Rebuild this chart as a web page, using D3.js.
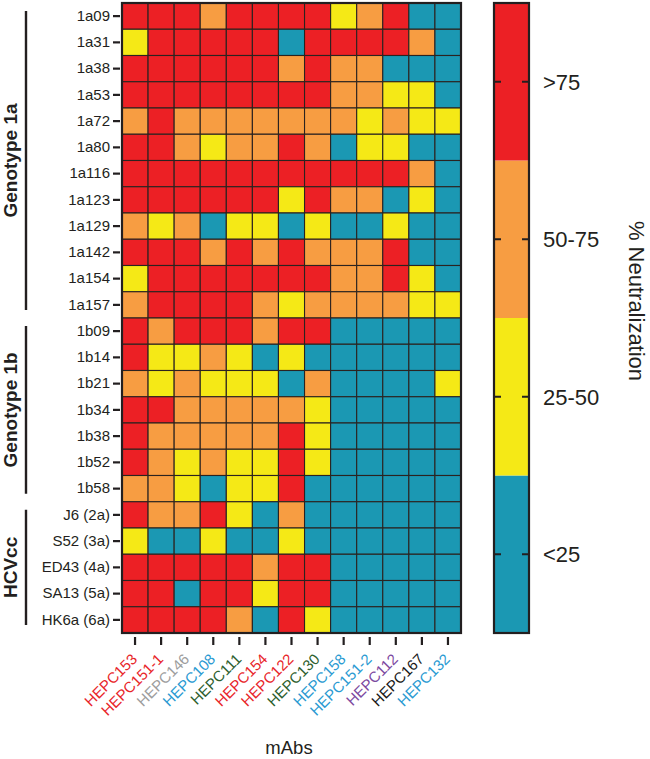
<!DOCTYPE html>
<html><head><meta charset="utf-8">
<script src="https://cdn.jsdelivr.net/npm/d3@7"></script>
<style>body{margin:0;background:#fff}svg{display:block}text{font-family:"Liberation Sans",Arial,sans-serif}</style>
</head><body>
<script>
const strains = ["1a09","1a31","1a38","1a53","1a72","1a80","1a116","1a123","1a129","1a142","1a154","1a157",
  "1b09","1b14","1b21","1b34","1b38","1b52","1b58","J6 (2a)","S52 (3a)","ED43 (4a)","SA13 (5a)","HK6a (6a)"];
const mabs = ["HEPC153","HEPC151-1","HEPC146","HEPC108","HEPC111","HEPC154","HEPC122","HEPC130","HEPC158","HEPC151-2","HEPC112","HEPC167","HEPC132"];
const mabColors = ["#e8262a","#e8262a","#9d9d9d","#2a9ad2","#2e5f2f","#e8262a","#e8262a","#2e5f2f","#2a9ad2","#2a9ad2","#7d4a9f","#1a1a1a","#2a9ad2"];
// neutralization class: 3 = >75, 2 = 50-75, 1 = 25-50, 0 = <25
const neutralization = [
  "3 3 3 2 3 3 3 3 1 2 3 0 0",
  "1 3 3 3 3 3 0 3 3 3 3 2 0",
  "3 3 3 3 3 3 2 3 2 2 0 0 0",
  "3 3 3 3 3 3 3 3 2 2 1 1 0",
  "2 3 2 2 2 2 2 2 2 1 2 1 1",
  "3 3 2 1 2 2 3 2 0 1 1 0 0",
  "3 3 3 3 3 3 3 3 3 3 3 2 0",
  "3 3 3 3 3 3 1 3 2 2 0 1 0",
  "2 1 2 0 1 1 0 1 0 0 1 0 0",
  "3 3 3 2 3 2 3 2 2 2 3 0 0",
  "1 3 3 3 3 3 3 3 2 2 3 1 0",
  "2 3 3 3 3 2 1 2 2 2 2 1 1",
  "3 2 3 3 3 2 3 3 0 0 0 0 0",
  "3 1 1 2 1 0 1 0 0 0 0 0 0",
  "2 1 2 1 1 1 0 2 0 0 0 0 1",
  "3 3 2 2 2 2 2 1 0 0 0 0 0",
  "3 2 2 2 2 2 3 1 0 0 0 0 0",
  "3 2 1 2 1 1 3 1 0 0 0 0 0",
  "2 2 1 0 1 1 3 0 0 0 0 0 0",
  "3 2 2 3 1 0 2 0 0 0 0 0 0",
  "1 0 0 1 0 0 1 0 0 0 0 0 0",
  "3 3 3 3 3 2 3 3 0 0 0 0 0",
  "3 3 0 3 3 1 3 3 0 0 0 0 0",
  "3 3 3 3 2 0 3 1 0 0 0 0 0"
].map(r => r.split(" ").map(Number));
const classes = [0,1,2,3];
const classLabels = ["<25","25-50","50-75",">75"];
const classColors = ["#1b98b3","#f5e916","#f79d42","#ec2025"];
const groups = [
  {name:"Genotype 1a", first:"1a09", last:"1a157"},
  {name:"Genotype 1b", first:"1b09", last:"1b58"},
  {name:"HCVcc", first:"J6 (2a)", last:"HK6a (6a)"}
];

const W = 650, H = 759;
const svg = d3.select("body").append("svg").attr("width", W).attr("height", H);
const x = d3.scaleBand().domain(mabs).range([122, 461]).padding(0);
const y = d3.scaleBand().domain(strains).range([3, 633]).padding(0);
const color = d3.scaleOrdinal().domain(classes).range(classColors);
const ink = "#231f20";

const cells = [];
neutralization.forEach((row, i) => row.forEach((v, j) => cells.push({s: strains[i], m: mabs[j], v})));
svg.append("g").selectAll("rect").data(cells).join("rect")
  .attr("x", d => x(d.m)).attr("y", d => y(d.s))
  .attr("width", x.bandwidth()).attr("height", y.bandwidth())
  .attr("fill", d => color(d.v)).attr("stroke", "#2b2320").attr("stroke-width", 1.1);
svg.append("rect").attr("x", 122).attr("y", 3).attr("width", 339).attr("height", 630)
  .attr("fill", "none").attr("stroke", ink).attr("stroke-width", 2.2);

// Y axis
const yAxis = svg.append("g").attr("transform", "translate(120,0)")
  .call(d3.axisLeft(y).tickSize(7).tickPadding(3));
yAxis.select(".domain").remove();
yAxis.selectAll(".tick line").attr("stroke", ink).attr("stroke-width", 2.2);
yAxis.selectAll(".tick text").attr("fill", ink).style("font-size", "15px").style("font-family", '"Liberation Sans",Arial,sans-serif');

// X axis
const xAxis = svg.append("g").attr("transform", "translate(0,637)")
  .call(d3.axisBottom(x).tickSize(8));
xAxis.select(".domain").remove();
xAxis.selectAll(".tick line").attr("stroke", ink).attr("stroke-width", 2.2);
xAxis.selectAll(".tick text").remove();
svg.append("g").selectAll("text").data(mabs).join("text")
  .attr("transform", d => `translate(${x(d) + x.bandwidth()/2 + 3},660) rotate(-45)`)
  .attr("text-anchor", "end").style("font-size", "15px")
  .attr("fill", (d, i) => mabColors[i]).text(d => d);

svg.append("text").attr("x", 289).attr("y", 754).attr("text-anchor", "middle")
  .style("font-size", "18.5px").attr("fill", ink).text("mAbs");

// groups
const gg = svg.append("g");
groups.forEach(g => {
  const y0 = y(g.first), y1 = y(g.last) + y.bandwidth();
  gg.append("line").attr("x1", 26).attr("x2", 26).attr("y1", y0 + 8).attr("y2", y1 - 8)
    .attr("stroke", ink).attr("stroke-width", 2.4);
  gg.append("text").attr("transform", `translate(17,${(y0 + y1) / 2}) rotate(-90)`)
    .attr("text-anchor", "middle").style("font-size", "19px").style("font-weight", "bold")
    .attr("fill", ink).text(g.name);
});

// legend
const ly = d3.scaleBand().domain(classes.slice().reverse()).range([3, 633]);
const lg = svg.append("g");
lg.selectAll("rect").data(classes).join("rect")
  .attr("x", 494).attr("y", d => ly(d)).attr("width", 35).attr("height", ly.bandwidth())
  .attr("fill", d => color(d));
lg.append("rect").attr("x", 494).attr("y", 3).attr("width", 35).attr("height", 630)
  .attr("fill", "none").attr("stroke", ink).attr("stroke-width", 2.2);
classes.forEach(c => {
  const cy = ly(c) + ly.bandwidth() / 2;
  lg.append("line").attr("x1", 494).attr("x2", 501).attr("y1", cy).attr("y2", cy).attr("stroke", ink).attr("stroke-width", 2);
  lg.append("line").attr("x1", 522).attr("x2", 529).attr("y1", cy).attr("y2", cy).attr("stroke", ink).attr("stroke-width", 2);
  lg.append("text").attr("x", 543).attr("y", cy).attr("dy", "0.36em").style("font-size", "22px")
    .attr("fill", ink).text(classLabels[c]);
});
svg.append("text").attr("transform", "translate(629,301) rotate(90)").attr("text-anchor", "middle")
  .style("font-size", "22px").attr("fill", ink).text("% Neutralization");
</script>
</body></html>
